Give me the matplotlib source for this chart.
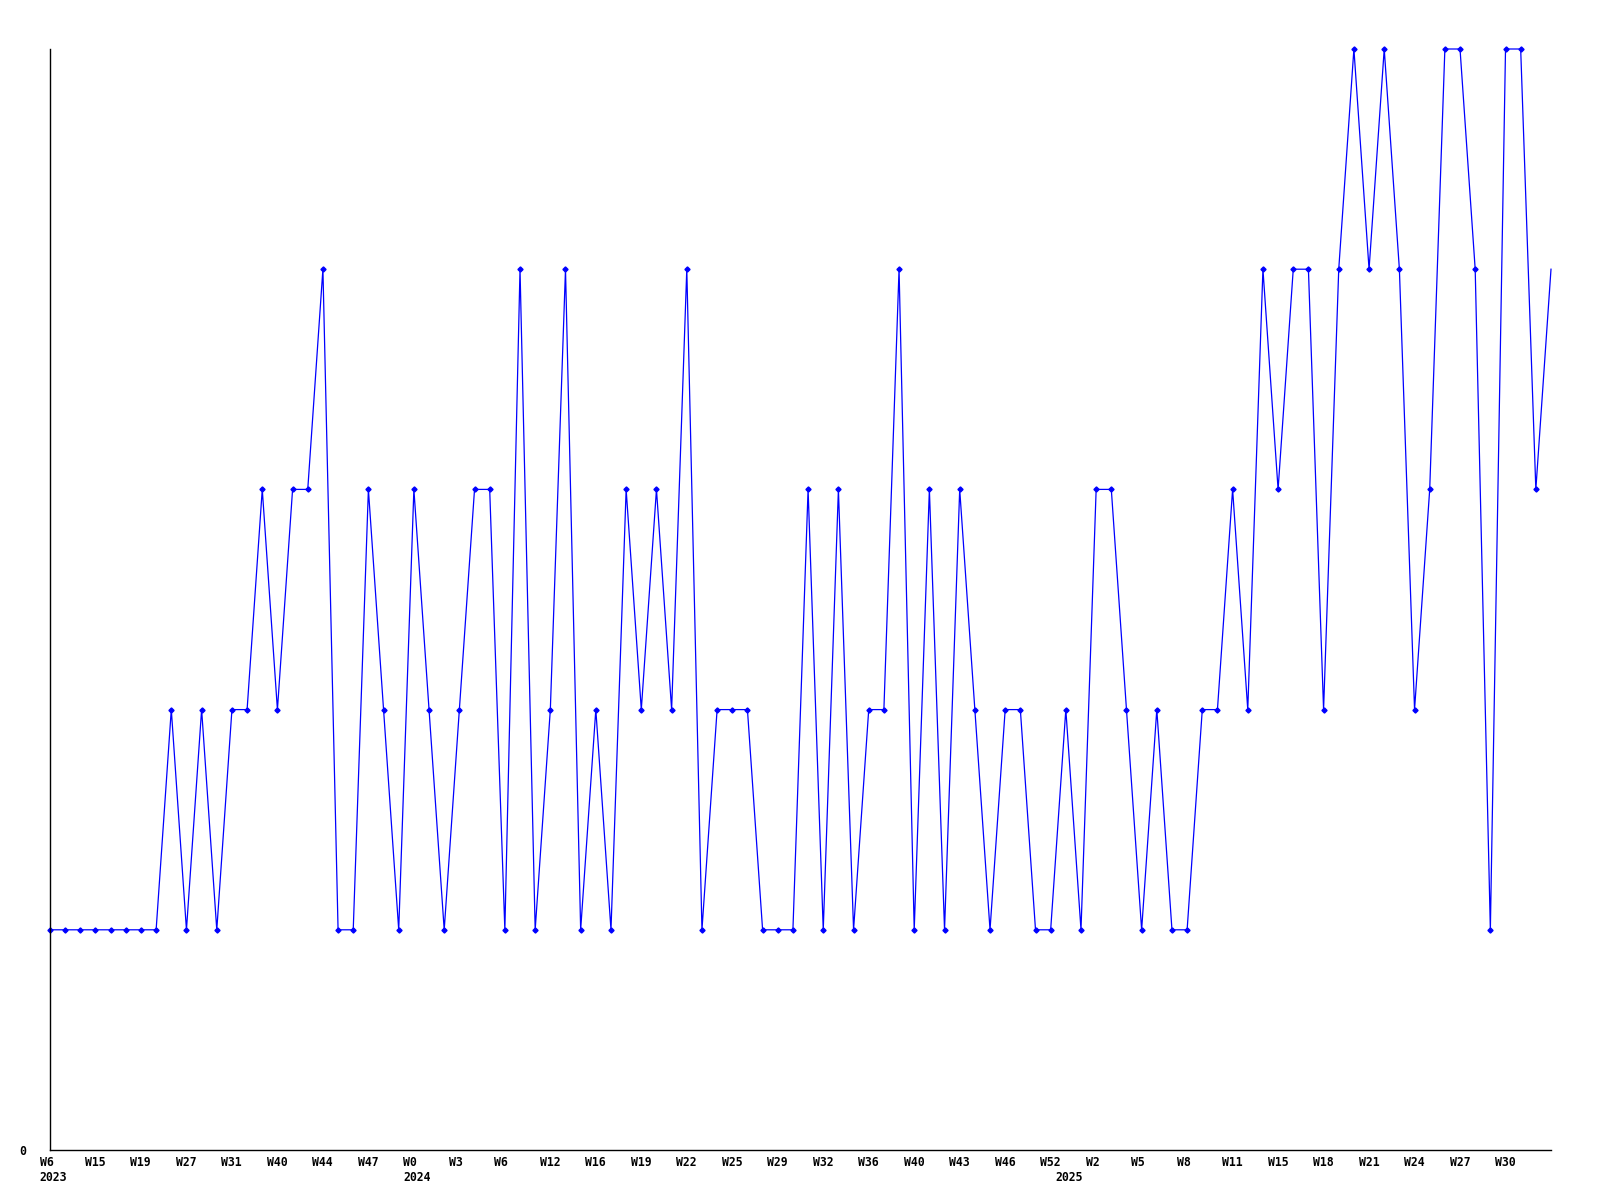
import matplotlib
matplotlib.use("Agg")
import matplotlib.pyplot as plt
from matplotlib.transforms import ScaledTranslation

# weekly values (100 weeks)
values = [1, 1, 1, 1, 1, 1, 1, 1, 2, 1,
          2, 1, 2, 2, 3, 2, 3, 3, 4, 1,
          1, 3, 2, 1, 3, 2, 1, 2, 3, 3,
          1, 4, 1, 2, 4, 1, 2, 1, 3, 2,
          3, 2, 4, 1, 2, 2, 2, 1, 1, 1,
          3, 1, 3, 1, 2, 2, 4, 1, 3, 1,
          3, 2, 1, 2, 2, 1, 1, 2, 1, 3,
          3, 2, 1, 2, 1, 1, 2, 2, 3, 2,
          4, 3, 4, 4, 2, 4, 5, 4, 5, 4,
          2, 3, 5, 5, 4, 1, 5, 5, 3, 4]

# tick labels, one every 3 weeks
tick_labels = ["W6", "W15", "W19", "W27", "W31", "W40", "W44", "W47", "W0",
               "W3", "W6", "W12", "W16", "W19", "W22", "W25", "W29", "W32",
               "W36", "W40", "W43", "W46", "W52", "W2", "W5", "W8", "W11",
               "W15", "W18", "W21", "W24", "W27", "W30"]
tick_step = 3

# year labels and the week index where each year starts
years = ["2023", "2024", "2025"]
year_start_index = [0, 24, 67]

x = list(range(len(values)))

fig = plt.figure(figsize=(16, 12), dpi=100)
ax = fig.add_axes([50 / 1600, 1 - 1150 / 1200, (1551 - 50) / 1600, (1150 - 49) / 1200])

ax.plot(x, values, color="#0000ff", lw=0.9, marker="D", markersize=2.6,
        markevery=slice(0, len(values) - 1), clip_on=False)

ax.set_xlim(0, len(values) - 1)
ax.set_ylim(0, 5)

for s in ["top", "right"]:
    ax.spines[s].set_visible(False)
for s in ["left", "bottom"]:
    ax.spines[s].set_linewidth(1.0)
    ax.spines[s].set_color("black")

font = dict(family="DejaVu Sans Mono", weight="bold", size=8.3)

ax.set_yticks([0])
ax.set_yticklabels(["0"], **font)
ax.tick_params(axis="y", length=0, pad=17)

ticks = x[::tick_step][:len(tick_labels)]
ax.set_xticks(ticks)
ax.set_xticklabels(tick_labels, **font)
ax.tick_params(axis="x", length=0, pad=4)
offset = ScaledTranslation(-10.5 / 100, 0, fig.dpi_scale_trans)
for lab in ax.get_xticklabels():
    lab.set_horizontalalignment("left")
    lab.set_transform(lab.get_transform() + offset)

ytrans = ax.get_xaxis_transform() + ScaledTranslation(-10.5 / 100, -21 / 100, fig.dpi_scale_trans)
for yr, idx in zip(years, year_start_index):
    ax.text(idx, 0, yr, transform=ytrans, ha="left", va="top", **font)

fig.savefig("out.png", dpi=100)
